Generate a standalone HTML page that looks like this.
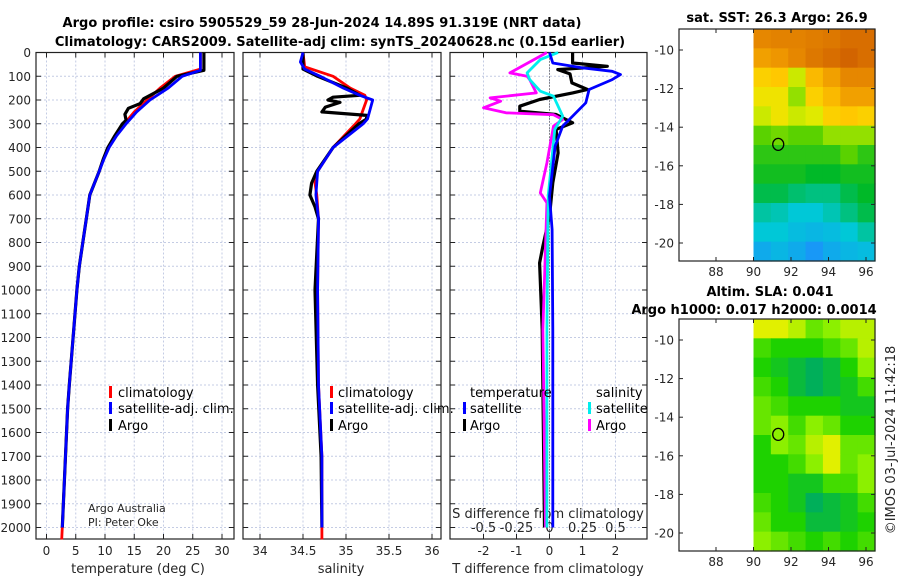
<!DOCTYPE html>
<html><head><meta charset="utf-8">
<style>
body{margin:0;background:#fff;}
svg{display:block;font-family:"DejaVu Sans","Liberation Sans",sans-serif;}
.tk{font-size:12px;fill:#262626;}
.tt{font-size:13px;font-weight:bold;fill:#000;}
.lg{font-size:13px;fill:#000;}
</style></head>
<body>
<svg id="fig" width="900" height="580" viewBox="0 0 900 580" xmlns="http://www.w3.org/2000/svg">
<text class="tt" x="322" y="27" text-anchor="middle">Argo profile: csiro 5905529_59 28-Jun-2024 14.89S 91.319E (NRT data)</text>
<text class="tt" x="340" y="46" text-anchor="middle">Climatology: CARS2009. Satellite-adj clim: synTS_20240628.nc (0.15d earlier)</text>
<text class="tt" x="777" y="22" text-anchor="middle">sat. SST: 26.3 Argo: 26.9</text>
<text class="tt" x="770" y="296" text-anchor="middle">Altim. SLA: 0.041</text>
<text class="tt" x="754" y="314" text-anchor="middle">Argo h1000: 0.017 h2000: 0.0014</text>
<text class="tk" transform="translate(895,440) rotate(-90)" text-anchor="middle" style="font-size:13px">©IMOS 03-Jul-2024 11:42:18</text>
<g id="layer"></g>
</svg>
<script>
// ---- data ----
var tempDepthClim=[0,70,100,150,200,250,300,350,400,450,500,550,600,700,800,900,1000,1400,1500,2000,2050];
var tempClim=[26.3,26.3,22.0,19.4,17.2,15.0,13.3,11.8,10.6,9.7,9.0,8.2,7.4,6.8,6.2,5.6,5.2,3.9,3.6,2.7,2.6];
var tempDepthSat=[0,75,100,150,200,250,300,350,400,450,500,550,600,700,800,900,1000,1400,1500,2000];
var tempSat=[26.3,26.3,23.2,20.8,17.7,15.4,13.6,12.0,10.7,9.8,9.0,8.2,7.4,6.8,6.2,5.6,5.2,3.9,3.6,2.7];
var tempDepthArgo=[0,75,100,150,195,215,235,260,285,300,350,400,450,500,550,600,700,800,900,1000,1400,1500,2000];
var tempArgo=[26.9,26.9,22.3,20.0,16.6,16.0,14.0,13.4,13.6,13.0,11.7,10.5,9.7,9.0,8.2,7.4,6.8,6.2,5.6,5.2,3.9,3.6,2.7];

var salDepthClim=[0,60,100,150,180,200,280,300,400,500,550,600,650,700,1000,1400,1700,2000,2050];
var salClim=[34.5,34.52,34.85,35.05,35.22,35.24,35.16,35.11,34.85,34.67,34.64,34.66,34.67,34.68,34.67,34.68,34.72,34.72,34.72];
var salDepthSat=[0,40,70,100,150,180,200,280,300,400,500,600,700,1000,1400,1700,2000];
var salSat=[34.5,34.47,34.52,34.7,34.97,35.16,35.31,35.25,35.2,34.85,34.67,34.65,34.68,34.67,34.68,34.72,34.72];
var salDepthArgo=[0,70,100,150,180,188,200,210,230,250,265,280,300,400,500,550,600,650,700,1000,1400,1700,2000];
var salArgo=[34.5,34.5,34.67,35.01,35.16,34.85,34.79,34.93,34.76,34.72,35.24,35.24,35.15,34.85,34.66,34.6,34.58,34.64,34.68,34.64,34.67,34.71,34.72];

var dtDepthSat=[0,44,65,79,93,114,156,212,268,310,395,605,745,1166,2000];
var dtSat=[0,0.1,1.0,1.9,2.15,1.9,1.2,1.1,0.7,0.4,0.17,0.0,0.08,0.1,0.1];
var dtDepthArgo=[0,44,58,72,90,128,156,170,198,226,247,261,296,324,423,549,689,815,886,1166,2000];
var dtArgo=[0.7,0.7,1.75,0.25,0.62,0.68,1.15,0.7,-0.3,-0.9,-0.9,0.2,0.7,0.2,0.26,0.1,0.0,-0.2,-0.3,-0.22,-0.15];
var dsDepthSat=[0,30,86,114,163,184,226,268,324,605,1166,2000];
var dsSat=[0.065,-0.07,-0.17,-0.15,-0.07,0.03,0.065,0.1,0.04,-0.01,-0.02,-0.02];
var dsDepthArgo=[0,86,100,114,170,191,205,233,254,262,282,310,465,591,633,1166,2000];
var dsArgo=[-0.02,-0.3,-0.17,-0.15,-0.1,-0.45,-0.37,-0.5,-0.33,0.03,0.1,0.03,-0.02,-0.07,-0.02,-0.05,-0.03];

var depthTicks=[0,100,200,300,400,500,600,700,800,900,1000,1100,1200,1300,1400,1500,1600,1700,1800,1900,2000];
var tempTicks=[0,5,10,15,20,25,30];
var salTicks=[34,34.5,35,35.5,36];
var dtTicks=[-2,-1,0,1,2];
var dsTicks=[-0.5,-0.25,0,0.25,0.5];
var dsTickLabels=["-0.5","-0.25","0","0.25","0.5"];
var lonTicks=[88,90,92,94,96];
var latTicks=[-10,-12,-14,-16,-18,-20];
var sstGrid=[
[0.85,0.86,0.86,0.87,0.88,0.9,0.9],
[0.8,0.82,0.85,0.88,0.9,0.92,0.9],
[0.7,0.72,0.6,0.75,0.8,0.85,0.85],
[0.65,0.65,0.55,0.7,0.75,0.8,0.8],
[0.6,0.65,0.6,0.62,0.7,0.72,0.7],
[0.5,0.52,0.5,0.5,0.55,0.55,0.55],
[0.45,0.45,0.45,0.45,0.45,0.5,0.45],
[0.42,0.42,0.42,0.4,0.4,0.42,0.42],
[0.38,0.38,0.36,0.35,0.35,0.38,0.4],
[0.33,0.32,0.3,0.3,0.32,0.35,0.38],
[0.3,0.3,0.28,0.27,0.28,0.3,0.33],
[0.25,0.27,0.25,0.22,0.25,0.27,0.28]];
var slaGrid=[
[0.9,0.9,0.8,0.6,0.7,0.8,0.8],
[0.5,0.4,0.4,0.4,0.5,0.6,0.8],
[0.4,0.3,0.2,0.1,0.2,0.4,0.7],
[0.5,0.4,0.2,0.1,0.2,0.3,0.5],
[0.6,0.5,0.4,0.4,0.4,0.3,0.3],
[0.6,0.7,0.5,0.7,0.6,0.4,0.4],
[0.4,0.7,0.6,0.8,0.9,0.6,0.6],
[0.4,0.4,0.5,0.7,0.9,0.6,0.7],
[0.4,0.4,0.3,0.3,0.5,0.5,0.7],
[0.5,0.4,0.3,0.1,0.2,0.3,0.5],
[0.6,0.4,0.4,0.2,0.2,0.3,0.4],
[0.7,0.6,0.5,0.4,0.5,0.4,0.5]];
var argoLon=91.319, argoLat=-14.89;

// ---- helpers ----
var NS="http://www.w3.org/2000/svg";
var layer=document.getElementById('layer');
function mk(tag,attrs,parent){var e=document.createElementNS(NS,tag);for(var k in attrs)e.setAttribute(k,attrs[k]);(parent||layer).appendChild(e);return e;}
var PT=52.5, PB=539;
function yD(d){return PT+d*0.2375;}
function lin(d0,d1,r0,r1){return function(v){return r0+(v-d0)*(r1-r0)/(d1-d0);};}
var xT=lin(0,30,46.5,222), xS=lin(34,36,260,432), xDT=lin(0,1,549.5,582.5), xDS=lin(0,0.5,549.5,615.5);

function panel(name,x0,x1,grids,xscale){
  var g=mk('g',{});
  
  
  grids.forEach(function(v){var x=xscale(v);mk('line',{x1:x,x2:x,y1:PT,y2:PB,stroke:'#c4cce4','stroke-width':1,'stroke-dasharray':'2,2'},g);});
  depthTicks.forEach(function(d){var y=yD(d);mk('line',{x1:x0,x2:x1,y1:y,y2:y,stroke:'#c4cce4','stroke-width':1,'stroke-dasharray':'2,2'},g);
    mk('line',{x1:x0,x2:x0+5,y1:y,y2:y,stroke:'#222'},g);mk('line',{x1:x1-5,x2:x1,y1:y,y2:y,stroke:'#222'},g);});
  grids.forEach(function(v){var x=xscale(v);mk('line',{x1:x,x2:x,y1:PB,y2:PB-5,stroke:'#222'},g);mk('line',{x1:x,x2:x,y1:PT,y2:PT+5,stroke:'#222'},g);});
  mk('rect',{x:x0,y:PT,width:x1-x0,height:PB-PT,fill:'none',stroke:'#222','stroke-width':1.2},g);
  return g;
}
function profile(name,depths,vals,xs,color,g,w){
  var d=depths.map(function(dd,i){return (i?'L':'M')+xs(vals[i]).toFixed(1)+','+yD(dd).toFixed(1);}).join('');
  var p=mk('path',{d:d,fill:'none',stroke:color,'stroke-width':w||2.8,'stroke-linejoin':'round'},g);
  
  
}
function txt(s,x,y,cls,anchor,g,name){var t=mk('text',{x:x,y:y,'class':cls,'text-anchor':anchor||'start'},g);t.textContent=s;
  if(name){}return t;}
function legBar(x,y,color,g){mk('rect',{x:x,y:y-11,width:3,height:12,fill:color},g);}

// panel 1
var g1=panel('temperature-panel',36,234,tempTicks,xT);
depthTicks.forEach(function(d){txt(String(d),31,yD(d)+4.5,'tk','end',g1,'depth-tick-label');});
tempTicks.forEach(function(v){txt(String(v),xT(v),555,'tk','middle',g1,'temp-tick-label');});
txt('temperature (deg C)',138,573,'tk','middle',g1,'temperature-axis-title').style.fontSize='13px';
profile('temp-climatology-line',tempDepthClim,tempClim,xT,'#f00',g1);
profile('temp-argo-line',tempDepthArgo,tempArgo,xT,'#000',g1,3.2);
profile('temp-satellite-line',tempDepthSat,tempSat,xT,'#00f',g1);
legBar(109,397,'#f00',g1);txt('climatology',118,397,'lg','start',g1,'legend-climatology');
legBar(109,413,'#00f',g1);txt('satellite-adj. clim.',118,413,'lg','start',g1,'legend-satellite-adj');
legBar(109,430,'#000',g1);txt('Argo',118,430,'lg','start',g1,'legend-argo');
txt('Argo Australia',88,512,'tk','start',g1,'credit-line-1').style.fontSize='11px';
txt('PI: Peter Oke',88,526,'tk','start',g1,'credit-line-2').style.fontSize='11px';

// panel 2
var g2=panel('salinity-panel',243,441,salTicks,xS);
salTicks.forEach(function(v){txt(String(v),xS(v),555,'tk','middle',g2,'sal-tick-label');});
txt('salinity',341,573,'tk','middle',g2,'salinity-axis-title').style.fontSize='13px';
profile('sal-climatology-line',salDepthClim,salClim,xS,'#f00',g2);
profile('sal-argo-line',salDepthArgo,salArgo,xS,'#000',g2,3.2);
profile('sal-satellite-line',salDepthSat,salSat,xS,'#00f',g2);
legBar(330,397,'#f00',g2);txt('climatology',338,397,'lg','start',g2,'legend-climatology-2');
legBar(330,413,'#00f',g2);txt('satellite-adj. clim.',338,413,'lg','start',g2,'legend-satellite-adj-2');
legBar(330,430,'#000',g2);txt('Argo',338,430,'lg','start',g2,'legend-argo-2');

// panel 3
var g3=panel('difference-panel',450,647,dtTicks,xDT);
mk('line',{x1:549.5,x2:549.5,y1:PT,y2:PB,stroke:'#333','stroke-dasharray':'1,2'},g3);
dtTicks.forEach(function(v){txt(String(v),xDT(v),555,'tk','middle',g3,'dt-tick-label');});
dsTicks.forEach(function(v,i){txt(dsTickLabels[i],xDS(v),532,'tk','middle',g3,'ds-tick-label').style.fontSize='13px';});
txt('S difference from climatology',548,518,'tk','middle',g3,'s-diff-axis-title').style.fontSize='13px';
txt('T difference from climatology',548,573,'tk','middle',g3,'t-diff-axis-title').style.fontSize='13px';
profile('dt-argo-line',dtDepthArgo,dtArgo,xDT,'#000',g3,3.2);
profile('ds-argo-line',dsDepthArgo,dsArgo,xDS,'#f0f',g3);
profile('ds-satellite-line',dsDepthSat,dsSat,xDS,'#0ee',g3);
profile('dt-satellite-line',dtDepthSat,dtSat,xDT,'#00f',g3);
txt('temperature',470,397,'lg','start',g3,'legend-temperature-header');
legBar(463,413,'#00f',g3);txt('satellite',470,413,'lg','start',g3,'legend-t-satellite');
legBar(463,430,'#000',g3);txt('Argo',470,430,'lg','start',g3,'legend-t-argo');
txt('salinity',596,397,'lg','start',g3,'legend-salinity-header');
legBar(588,413,'#0ee',g3);txt('satellite',596,413,'lg','start',g3,'legend-s-satellite');
legBar(588,430,'#f0f',g3);txt('Argo',596,430,'lg','start',g3,'legend-s-argo');

// maps
function cmap(stops,v){for(var i=1;i<stops.length;i++){if(v<=stops[i][0]||i==stops.length-1){var a=stops[i-1],b=stops[i];var t=Math.max(0,Math.min(1,(v-a[0])/(b[0]-a[0])));
  return 'rgb('+[1,2,3].map(function(k){return Math.round(a[k]+(b[k]-a[k])*t);}).join(',')+')';}}}
var sstStops=[[0.2,30,140,255],[0.3,0,200,215],[0.4,0,185,40],[0.5,90,210,0],[0.57,170,230,0],[0.63,235,235,0],[0.72,255,200,0],[0.82,238,150,0],[0.92,210,100,0]];
var slaStops=[[0.1,0,175,90],[0.4,30,210,0],[0.7,140,240,0],[0.9,225,240,0]];
function map(name,top,bottom,grid,stops){
  var g=mk('g',{});
  
  
  var L=679,R=875;
  var xl=lin(88,96,716,866), yl=lin(-10,-20,top+21,top+214);
  var x0=xl(90),x1=R,y0=top,y1=bottom;
  var nr=grid.length,nc=grid[0].length,cw=(x1-x0)/nc,ch=(y1-y0)/nr;
  grid.forEach(function(row,r){row.forEach(function(v,c){
    var cell=mk('rect',{x:(x0+c*cw).toFixed(2),y:(y0+r*ch).toFixed(2),width:(cw+0.6).toFixed(2),height:(ch+0.6).toFixed(2),fill:cmap(stops,v)},g);
    
    
  });});
  mk('rect',{x:L,y:top,width:R-L,height:bottom-top,fill:'none',stroke:'#222','stroke-width':1.2},g);
  lonTicks.forEach(function(v){var x=xl(v);mk('line',{x1:x,x2:x,y1:bottom,y2:bottom-4,stroke:'#222'},g);mk('line',{x1:x,x2:x,y1:top,y2:top+4,stroke:'#222'},g);
    txt(String(v),x,bottom+15,'tk','middle',g,'lon-tick-label');});
  latTicks.forEach(function(v){var y=yl(v);mk('line',{x1:L,x2:L+4,y1:y,y2:y,stroke:'#222'},g);mk('line',{x1:R-4,x2:R,y1:y,y2:y,stroke:'#222'},g);
    txt(String(v),674,y+4.5,'tk','end',g,'lat-tick-label');});
  var m=mk('ellipse',{cx:xl(argoLon),cy:yl(argoLat),rx:5.5,ry:6,fill:'none',stroke:'#000','stroke-width':1.3},g);
  
  
}
map('sst-map',29,261,sstGrid,sstStops);
map('sla-map',319,551,slaGrid,slaStops);
</script>
</body></html>
